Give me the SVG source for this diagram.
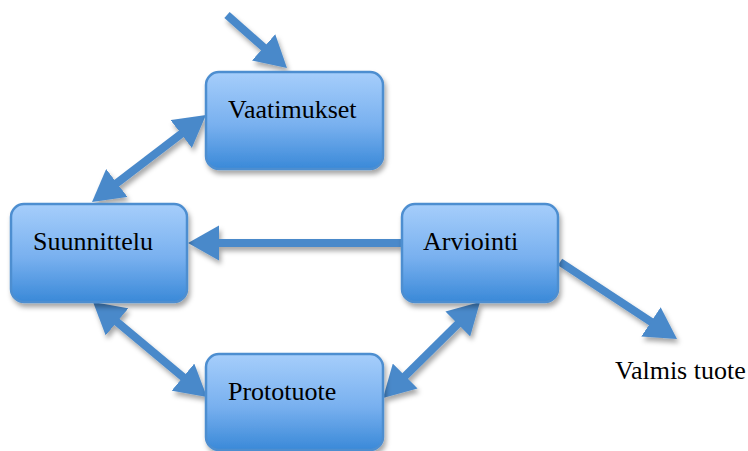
<svg xmlns="http://www.w3.org/2000/svg" width="748" height="451" viewBox="0 0 748 451">
<style>
.box{fill:url(#g);stroke:#4d8ed0;stroke-width:2.5;filter:url(#sh)}
.lbl{font-family:"Liberation Serif","Times New Roman",serif;font-size:26px;fill:#000}
.c{fill:none;stroke:#4a89ca;stroke-width:8}
</style>
<defs>
<linearGradient id="g" x1="0" y1="0" x2="0" y2="1">
<stop offset="0" stop-color="#a6cefb"/>
<stop offset="0.55" stop-color="#78b0ef"/>
<stop offset="1" stop-color="#3a89d8"/>
</linearGradient>
<filter id="sh" x="-20%" y="-20%" width="140%" height="150%">
<feDropShadow dx="2" dy="4" stdDeviation="2.5" flood-color="#000" flood-opacity="0.35"/>
</filter>
<marker id="ah" viewBox="0 0 3.9 4.4" refX="0.65" refY="2.2" markerWidth="3.9" markerHeight="4.4" orient="auto-start-reverse">
<path d="M0,0 L3.9,2.2 L0,4.4 z" fill="#4a89ca"/>
</marker>
</defs>
<g id="connectors" filter="url(#sh)">
<line class="c" x1="227" y1="15" x2="267.5" y2="50.8" marker-end="url(#ah)"/>
<line class="c" x1="185.3" y1="130.8" x2="112.7" y2="186.2" marker-start="url(#ah)" marker-end="url(#ah)"/>
<line class="c" x1="113" y1="318.6" x2="187" y2="380.4" marker-start="url(#ah)" marker-end="url(#ah)"/>
<line class="c" x1="461.5" y1="320.3" x2="401.5" y2="379.7" marker-start="url(#ah)" marker-end="url(#ah)"/>
<line class="c" x1="402" y1="243" x2="214" y2="243" marker-end="url(#ah)"/>
<line class="c" x1="560" y1="262" x2="655.3" y2="324.7" marker-end="url(#ah)"/>
</g>
<g id="vaatimukset">
<rect class="box" x="206" y="72" width="177" height="97" rx="13"/>
<text class="lbl" x="228" y="118">Vaatimukset</text>
</g>
<g id="suunnittelu">
<rect class="box" x="11" y="204" width="176" height="98" rx="13"/>
<text class="lbl" x="33" y="250">Suunnittelu</text>
</g>
<g id="arviointi">
<rect class="box" x="402" y="204" width="156" height="98" rx="13"/>
<text class="lbl" x="423" y="250">Arviointi</text>
</g>
<g id="prototuote">
<rect class="box" x="206" y="354" width="177" height="96" rx="13"/>
<text class="lbl" x="228" y="400">Prototuote</text>
</g>
<g id="valmis">
<text class="lbl" x="615" y="379">Valmis tuote</text>
</g>
</svg>
